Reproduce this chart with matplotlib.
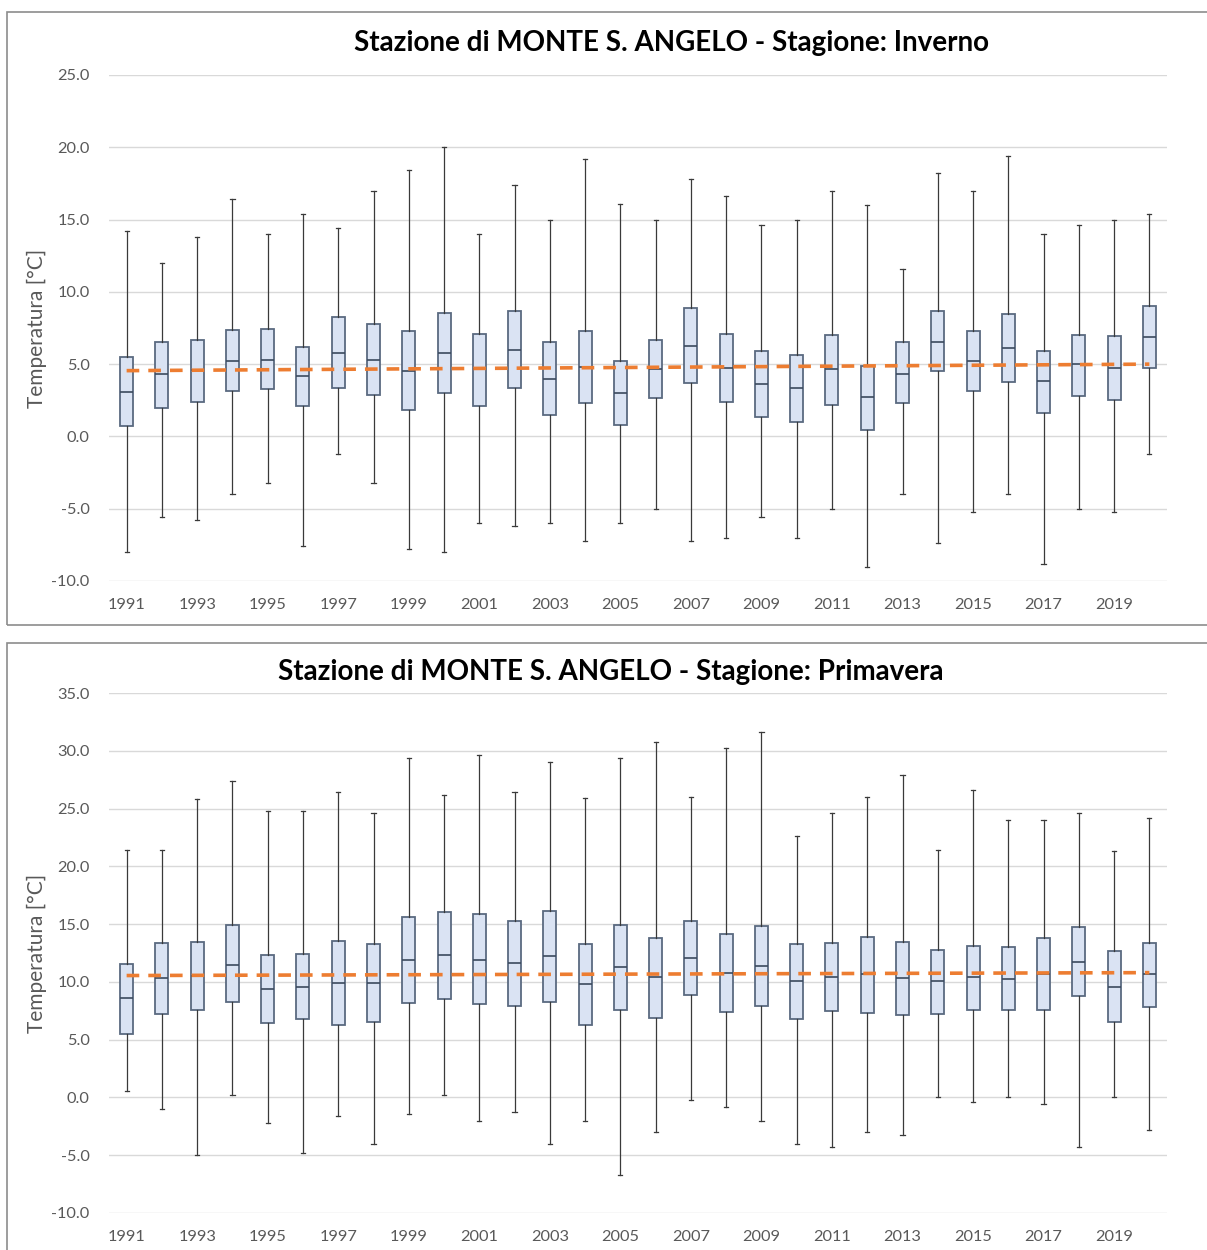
import matplotlib.pyplot as plt
from matplotlib.patches import Rectangle

anni = list(range(1991, 2021))

# Inverno
inv_max = [14.2, 12.0, 13.8, 16.4, 14.0, 15.4, 14.4, 17.0, 18.4, 20.0,
           14.0, 17.4, 15.0, 19.2, 16.1, 15.0, 17.8, 16.6, 14.6, 15.0,
           17.0, 16.0, 11.6, 18.2, 17.0, 19.4, 14.0, 14.6, 15.0, 15.4]
inv_q3 = [5.5, 6.55, 6.7, 7.35, 7.4, 6.2, 8.25, 7.8, 7.3, 8.55,
          7.1, 8.65, 6.5, 7.3, 5.2, 6.65, 8.85, 7.1, 5.9, 5.6,
          7.0, 4.9, 6.5, 8.65, 7.3, 8.45, 5.9, 7.05, 6.95, 9.05]
inv_med = [3.1, 4.35, 4.6, 5.2, 5.3, 4.15, 5.8, 5.3, 4.55, 5.8,
           4.65, 6.0, 3.95, 4.8, 3.0, 4.65, 6.25, 4.75, 3.6, 3.35,
           4.65, 2.7, 4.35, 6.55, 5.2, 6.15, 3.85, 5.0, 4.7, 6.9]
inv_q1 = [0.7, 2.0, 2.4, 3.15, 3.3, 2.1, 3.35, 2.9, 1.8, 3.0,
          2.1, 3.35, 1.5, 2.3, 0.8, 2.65, 3.7, 2.35, 1.35, 1.0,
          2.2, 0.45, 2.3, 4.5, 3.15, 3.75, 1.65, 2.8, 2.55, 4.7]
inv_min = [-8.0, -5.6, -5.8, -4.0, -3.2, -7.6, -1.2, -3.2, -7.8, -8.0,
           -6.0, -6.2, -6.0, -7.2, -6.0, -5.0, -7.2, -7.0, -5.6, -7.0,
           -5.0, -9.0, -4.0, -7.4, -5.2, -4.0, -8.8, -5.0, -5.2, -1.2]
inv_trend = [4.55, 5.0]

# Primavera
pri_max = [21.4, 21.4, 25.8, 27.4, 24.8, 24.8, 26.4, 24.6, 29.4, 26.2,
           29.6, 26.4, 29.0, 25.9, 29.4, 30.8, 26.0, 30.2, 31.6, 22.6,
           24.6, 26.0, 27.9, 21.4, 26.6, 24.0, 24.0, 24.6, 21.3, 24.2]
pri_q3 = [11.55, 13.4, 13.45, 14.9, 12.3, 12.4, 13.5, 13.3, 15.6, 16.05,
          15.9, 15.25, 16.1, 13.3, 14.9, 13.8, 15.3, 14.15, 14.8, 13.3,
          13.4, 13.9, 13.45, 12.8, 13.1, 13.0, 13.8, 14.75, 12.65, 13.4]
pri_med = [8.6, 10.35, 10.55, 11.45, 9.4, 9.55, 9.9, 9.9, 11.9, 12.3,
           11.9, 11.65, 12.25, 9.8, 11.25, 10.4, 12.05, 10.8, 11.4, 10.1,
           10.4, 10.65, 10.35, 10.1, 10.4, 10.25, 10.65, 11.75, 9.55, 10.65]
pri_q1 = [5.5, 7.2, 7.55, 8.3, 6.4, 6.8, 6.3, 6.5, 8.15, 8.55,
          8.1, 7.95, 8.3, 6.3, 7.55, 6.85, 8.9, 7.4, 7.95, 6.8,
          7.5, 7.3, 7.15, 7.2, 7.55, 7.55, 7.55, 8.8, 6.55, 7.85]
pri_min = [0.6, -1.0, -5.0, 0.2, -2.25, -4.8, -1.6, -4.0, -1.4, 0.2,
           -2.0, -1.3, -4.0, -2.0, -6.7, -3.0, -0.25, -0.85, -2.0, -4.0,
           -4.3, -3.0, -3.25, 0.0, -0.4, 0.0, -0.55, -4.3, 0.0, -2.8]
pri_trend = [10.55, 10.8]

W, H = 1207, 1250
fig = plt.figure(figsize=(W / 100, H / 100), dpi=100)
plt.rcParams['font.family'] = ['Lato', 'DejaVu Sans']

grigio = '#595959'
box_fill = '#dae3f3'
box_edge = '#5a6a80'


def pannello(rect_px, ax_px, titolo, title_x, title_y, ylim, yticks,
             vmax, q3, med, q1, vmin, trend):
    # cornice del grafico (stile Excel)
    x0, y0, x1, y1 = rect_px
    fig.add_artist(Rectangle((x0 / W, 1 - y1 / H), (x1 - x0) / W, (y1 - y0) / H,
                             transform=fig.transFigure, fill=False,
                             edgecolor='#8c8c8c', linewidth=1.2))
    l, t, r, b = ax_px
    ax = fig.add_axes([l / W, 1 - b / H, (r - l) / W, (b - t) / H])
    stats = []
    for i in range(len(anni)):
        stats.append({'whislo': vmin[i], 'q1': q1[i], 'med': med[i],
                      'q3': q3[i], 'whishi': vmax[i]})
    ax.bxp(stats, positions=anni, widths=0.37, showfliers=False,
           patch_artist=True,
           boxprops=dict(facecolor=box_fill, edgecolor=box_edge, linewidth=1.3),
           medianprops=dict(color='#3b4a5e', linewidth=1.2),
           whiskerprops=dict(color='#3a3a3a', linewidth=0.9),
           capprops=dict(color='#3a3a3a', linewidth=0.9),
           capwidths=0.12)
    ax.plot([anni[0], anni[-1]], trend, color='#ed7d31', linestyle=(0, (3.5, 2.5)),
            linewidth=2.6, zorder=5)
    ax.set_xlim(anni[0] - 0.5, anni[-1] + 0.5)
    ax.set_ylim(*ylim)
    ax.set_yticks(yticks)
    ax.set_yticklabels(['%.1f' % v for v in yticks])
    ax.set_xticks(anni[::2])
    ax.set_xticklabels([str(a) for a in anni[::2]])
    ax.tick_params(axis='both', length=0, labelsize=11.8, colors=grigio)
    ax.tick_params(axis='x', pad=12)
    ax.tick_params(axis='y', pad=14)
    for s in ax.spines.values():
        s.set_visible(False)
    ax.grid(axis='y', color='#d9d9d9', linewidth=1)
    ax.set_axisbelow(True)
    ax.set_ylabel('Temperatura [°C]', fontsize=15, color=grigio, labelpad=3)
    fig.text(title_x / W, 1 - title_y / H, titolo, ha='center', va='center',
             fontsize=20, fontweight='bold', color='black')
    return ax


pannello((7, 12, 1215, 625), (109, 75, 1167, 581),
         'Stazione di MONTE S. ANGELO - Stagione: Inverno', 671, 43,
         (-10, 25), [-10, -5, 0, 5, 10, 15, 20, 25],
         inv_max, inv_q3, inv_med, inv_q1, inv_min, inv_trend)

pannello((7, 643, 1215, 1260), (109, 693, 1167, 1213),
         'Stazione di MONTE S. ANGELO - Stagione: Primavera', 611, 672,
         (-10, 35), [-10, -5, 0, 5, 10, 15, 20, 25, 30, 35],
         pri_max, pri_q3, pri_med, pri_q1, pri_min, pri_trend)

fig.savefig('out.png', dpi=100)
